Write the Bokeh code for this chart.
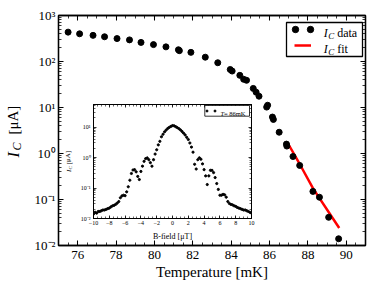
from bokeh.plotting import figure
from bokeh.models import (Range1d, LinearAxis, LogAxis, FixedTicker, Label, BoxAnnotation,
                          Legend, LegendItem, GridBox, CustomLabelingPolicy)
from bokeh.core.properties import value
from bokeh.embed import file_html
from bokeh.resources import INLINE

FONT = "Liberation Serif"

# ---------------- main data: critical current vs temperature ----------------
temp_mK = [75.5, 76.1, 76.8, 77.4, 78.05, 78.7, 79.3, 79.95, 80.6, 81.25, 81.3, 81.9,
           82.65, 83.3, 83.95, 84.05, 84.45, 84.65, 84.8, 85.15, 85.3, 85.45, 85.85, 85.9,
           86.15, 86.2, 86.5, 86.88, 86.9, 87.22, 87.57, 88.26, 88.6, 89.08, 89.6]
ic_uA = [435, 400, 370, 345, 315, 295, 260, 233, 208, 180, 172, 158,
         124, 94, 67, 62, 50, 41, 39, 26, 21.5, 17.6, 10.2, 11.2,
         6.2, 5.5, 2.9, 1.6, 1.45, 0.86, 0.55, 0.15, 0.112, 0.041, 0.014]

fit_temp_mK = [86.96, 87.59, 88.28, 89.06, 89.63]
fit_ic_uA = [1.65, 0.57, 0.17, 0.055, 0.024]

x_ticks = [76, 78, 80, 82, 84, 86, 88, 90]
x_tick_labels = ["76", "78", "80", "82", "84", "86", "88", "90"]
y_ticks = [0.01, 0.1, 1, 10, 100, 1000]
y_tick_labels = ["10⁻²", "10⁻¹", "10⁰", "10¹", "10²", "10³"]

# ---------------- inset data: critical current vs B-field at T = 86 mK ----------------
bfield_uT = [-10.0, -9.8, -9.6, -9.4, -9.2, -9.0, -8.8, -8.6, -8.4, -8.2,
             -8.0, -7.8, -7.6, -7.4, -7.2, -7.0, -6.8, -6.6, -6.4, -6.2,
             -6.0, -5.8, -5.6, -5.4, -5.2, -5.0, -4.8, -4.6, -4.4, -4.2,
             -4.0, -3.8, -3.6, -3.4, -3.2, -3.0, -2.8, -2.6, -2.4, -2.2,
             -2.0, -1.8, -1.6, -1.4, -1.2, -1.0, -0.8, -0.6, -0.4, -0.2,
             0.0, 0.2, 0.4, 0.6, 0.8, 1.0, 1.2, 1.4, 1.6, 1.8,
             2.0, 2.2, 2.4, 2.6, 2.8, 3.0, 3.2, 3.4, 3.6, 3.8,
             4.0, 4.2, 4.4, 4.6, 4.8, 5.0, 5.2, 5.4, 5.6, 5.8,
             6.0, 6.2, 6.4, 6.6, 6.8, 7.0, 7.2, 7.4, 7.6, 7.8,
             8.0, 8.2, 8.4, 8.6, 8.8, 9.0, 9.2, 9.4, 9.6, 9.8,
             10.0]
inset_ic_uA = [0.014, 0.016, 0.015, 0.017, 0.017, 0.018, 0.019, 0.019, 0.020, 0.021,
               0.022, 0.024, 0.026, 0.027, 0.029, 0.032, 0.036, 0.048, 0.055, 0.058,
               0.056, 0.075, 0.11, 0.18, 0.30, 0.39, 0.40, 0.34, 0.24, 0.19,
               0.35, 0.52, 0.75, 0.92, 0.97, 0.85, 0.68, 0.52, 0.85, 1.3,
               1.8, 2.6, 3.4, 4.8, 5.8, 7.0, 8.0, 9.0, 9.8, 10.5,
               11.2, 11.0, 10.3, 9.6, 8.9, 8.1, 7.2, 6.3, 5.5, 4.6,
               3.9, 3.0, 2.2, 1.5, 0.6, 0.42, 0.85, 0.98, 0.88, 0.62,
               0.40, 0.25, 0.13, 0.25, 0.38, 0.38, 0.32, 0.22, 0.14, 0.09,
               0.058, 0.058, 0.062, 0.060, 0.050, 0.036, 0.031, 0.029, 0.028, 0.026,
               0.025, 0.023, 0.022, 0.021, 0.020, 0.019, 0.019, 0.018, 0.017, 0.016,
               0.015]

inset_x_ticks = [-10, -8, -6, -4, -2, 0, 2, 4, 6, 8, 10]
inset_x_tick_labels = ["−10", "−8", "−6", "−4", "−2", "0", "2", "4", "6", "8", "10"]
inset_y_ticks = [0.01, 0.1, 1, 10]
inset_y_tick_labels = ["10⁻²", "10⁻¹", "10⁰", "10¹"]

W, H = 380, 286
BL, BR, BT, BB = 58, 15, 15, 41   # borders shared by every figure in the grid


def log_minors(lo, hi):
    return [m * 10.0 ** k for k in range(lo, hi) for m in range(2, 10)]


def lin_minors(start, stop, step):
    out, v = [], start
    while v <= stop + 1e-9:
        out.append(round(v, 3))
        v += step
    return out


HIDE_ALL = "for (const i of Array.from(indices)) { indices.unset(i) }\nreturn indices"


def style_axis(ax, ticks, minor, labels, size, standoff, major_in, minor_in, lw):
    ax.ticker = FixedTicker(ticks=ticks, minor_ticks=minor)
    ax.major_tick_in = major_in
    ax.major_tick_out = 0
    ax.minor_tick_in = minor_in
    ax.minor_tick_out = 0
    ax.axis_line_width = lw
    ax.major_tick_line_width = lw * 0.8
    ax.minor_tick_line_width = lw * 0.6
    ax.axis_line_color = "black"
    ax.major_tick_line_color = "black"
    ax.minor_tick_line_color = "black"
    ax.major_label_text_font = FONT
    ax.major_label_text_color = "black"
    ax.major_label_standoff = standoff
    if labels is None:
        ax.major_label_text_font_size = "1px"
        ax.major_label_policy = CustomLabelingPolicy(code=HIDE_ALL)
    else:
        ax.major_label_text_font_size = size
        ax.major_label_overrides = dict(zip(ticks, labels))


def add_label(fig, x, y, text, size, style="normal", angle=0.0, align="left"):
    fig.add_layout(Label(x=x, y=y, x_units="screen", y_units="screen", text=text,
                         text_font=FONT, text_font_size=f"{size}px", text_font_style=style,
                         text_color="black", angle=angle, text_align=align,
                         text_baseline="alphabetic"))


def glyph_legend(fig, renderer, x, y, gw, gh):
    fig.add_layout(Legend(items=[LegendItem(label=value(" "), renderers=[renderer])],
                          location=(x, y), glyph_width=gw, glyph_height=gh,
                          label_width=0, label_height=gh, label_standoff=0,
                          label_text_font_size="2px", padding=0, spacing=0, margin=0,
                          border_line_color=None, background_fill_alpha=0))


def borders():
    return dict(min_border_left=BL, min_border_right=BR, min_border_top=BT, min_border_bottom=BB)


# ---------------- main figure ----------------
p = figure(width=W, height=H, x_range=Range1d(75, 91), y_range=Range1d(0.01, 1000),
           y_axis_type="log", output_backend="svg", toolbar_location=None, **borders())
p.grid.visible = False
p.outline_line_color = "black"
p.outline_line_width = 1.3
p.background_fill_color = "white"
p.border_fill_color = "white"

style_axis(p.xaxis[0], x_ticks, lin_minors(75, 91, 0.5), x_tick_labels, "13px", 5, 5, 3, 1.3)
style_axis(p.yaxis[0], y_ticks, log_minors(-2, 3), y_tick_labels, "13px", 3, 5, 3, 1.3)
p.xaxis[0].axis_label = "Temperature [mK]"
p.xaxis[0].axis_label_text_font = FONT
p.xaxis[0].axis_label_text_font_size = "15px"
p.xaxis[0].axis_label_text_font_style = "normal"
p.xaxis[0].axis_label_text_color = "black"
p.xaxis[0].axis_label_standoff = 2

top_ax = LinearAxis()
right_ax = LogAxis()
p.add_layout(top_ax, "above")
p.add_layout(right_ax, "right")
style_axis(top_ax, x_ticks, lin_minors(75, 91, 0.5), None, "1px", 0, 5, 3, 1.3)
style_axis(right_ax, y_ticks, log_minors(-2, 3), None, "1px", 0, 5, 3, 1.3)

r_fit = p.line(fit_temp_mK, fit_ic_uA, line_color="red", line_width=2.5)
r_data = p.scatter(temp_mK, ic_uA, size=6, fill_color="black", line_color="black")

# legend (inside the frame)
p.add_layout(BoxAnnotation(left=228, right=304, top=223, bottom=189,
                           left_units="screen", right_units="screen",
                           top_units="screen", bottom_units="screen",
                           fill_color="white", fill_alpha=1.0,
                           line_color="black", line_width=1.3, line_alpha=1.0))
glyph_legend(p, r_data, 229, 207.7, 16, 16)
glyph_legend(p, r_data, 244, 207.7, 16, 16)
glyph_legend(p, r_fit, 236, 192, 17, 16)
add_label(p, 265.3, 212.7, "I", 12, style="italic")
add_label(p, 269.8, 209.7, "C", 9, style="italic")
add_label(p, 278.7, 212.7, "data", 12)
add_label(p, 265.3, 196.7, "I", 12, style="italic")
add_label(p, 269.8, 193.7, "C", 9, style="italic")
add_label(p, 278.7, 196.7, "fit", 12)

# inset axis titles (they lie inside the main frame, beside the inset frame)
add_label(p, 114, 9.5, "B-field [μT]", 8, align="center")
add_label(p, 10, 73.6, "I", 7, style="italic", angle=1.5708)
add_label(p, 11.5, 76, "C", 5, style="italic", angle=1.5708)
add_label(p, 10, 81.2, "[μA]", 7, angle=1.5708)

# ---------------- inset figure (frame at page x 93..251, y 104..218) ----------------
ins = figure(width=158 + BL + BR, height=114 + BT + BB, x_range=Range1d(-10, 10),
             y_range=Range1d(0.01, 54.95), y_axis_type="log", output_backend="svg",
             toolbar_location=None, margin=(104 - BT, 0, 0, 93 - BL), **borders())
ins.grid.visible = False
ins.outline_line_color = "black"
ins.outline_line_width = 1.0
ins.background_fill_color = "white"
ins.border_fill_color = None

style_axis(ins.xaxis[0], inset_x_ticks, lin_minors(-10, 10, 0.5), inset_x_tick_labels, "6px", 2, 3, 2, 1.0)
style_axis(ins.yaxis[0], inset_y_ticks, log_minors(-2, 2), inset_y_tick_labels, "6px", 3, 3, 2, 1.0)
ins_top = LinearAxis()
ins_right = LogAxis()
ins.add_layout(ins_top, "above")
ins.add_layout(ins_right, "right")
style_axis(ins_top, inset_x_ticks, lin_minors(-10, 10, 0.5), None, "1px", 0, 3, 2, 1.0)
style_axis(ins_right, inset_y_ticks, log_minors(-2, 2), None, "1px", 0, 3, 2, 1.0)

r_ins = ins.scatter(bfield_uT, inset_ic_uA, size=2.2, fill_color="black", line_color="black")

ins.add_layout(BoxAnnotation(left=111.3, right=156, top=113, bottom=102.3,
                             left_units="screen", right_units="screen",
                             top_units="screen", bottom_units="screen",
                             fill_color="white", fill_alpha=1.0,
                             line_color="black", line_width=0.8, line_alpha=1.0))
glyph_legend(ins, r_ins, 111.2, 105, 5, 5)
glyph_legend(ins, r_ins, 118.5, 105, 5, 5)
add_label(ins, 127, 105, "T", 6.5, style="italic")
add_label(ins, 130.5, 105, " = 86mK", 6.5)

# ---------------- transparent overlay holding the main y-axis title ----------------
# its frame covers page x 0..22, y 95..165
ov = figure(width=22 + BL + BR, height=70 + BT + BB, x_range=Range1d(0, 1), y_range=Range1d(0, 1),
            x_axis_location=None, y_axis_location=None, output_backend="svg",
            toolbar_location=None, margin=(95 - BT, 0, 0, -BL), **borders())
ov.grid.visible = False
ov.outline_line_color = None
ov.background_fill_alpha = 0
ov.border_fill_alpha = 0

add_label(ov, 13, 8, "I", 16, style="italic", angle=1.5708)
add_label(ov, 16.5, 15, "C", 12, style="italic", angle=1.5708)
add_label(ov, 13, 31, "[μA]", 15, angle=1.5708)

layout = GridBox(children=[(p, 0, 0), (ins, 0, 0), (ov, 0, 0)])

with open("out.html", "w") as f:
    f.write(file_html(layout, INLINE))
